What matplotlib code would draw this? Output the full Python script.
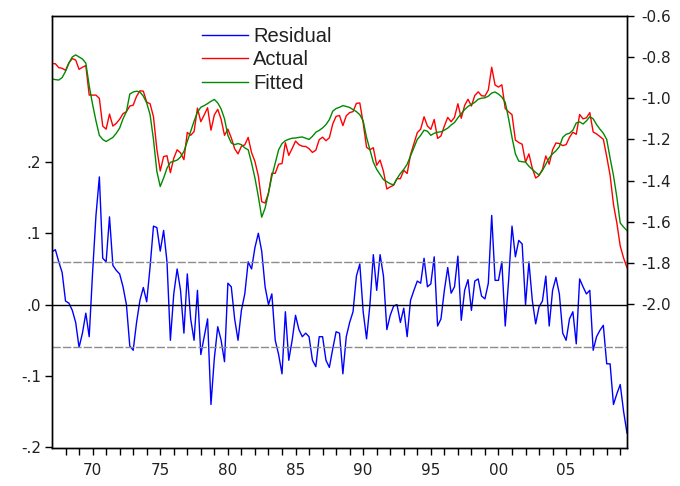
import numpy as np
import matplotlib
matplotlib.use("Agg")
import matplotlib.pyplot as plt
from matplotlib.ticker import FixedLocator, FixedFormatter

# quarterly sample, 1967Q1 .. 2009Q3
START_YEAR = 1967
residual = [
    0.074, 0.077, 0.060, 0.045, 0.005, 0.002, -0.008, -0.025, -0.060, -0.040,
    -0.012, -0.045, 0.045, 0.125, 0.179, 0.065, 0.060, 0.123, 0.055, 0.048,
    0.043, 0.025, 0.000, -0.058, -0.064, -0.025, 0.006, 0.024, 0.004, 0.053,
    0.110, 0.108, 0.075, 0.104, 0.060, -0.050, 0.015, 0.050, 0.020, -0.040,
    0.043, -0.020, -0.050, 0.020, -0.070, -0.045, -0.020, -0.140, -0.075, -0.031,
    -0.050, -0.080, 0.030, 0.025, -0.020, -0.050, -0.008, 0.015, 0.060, 0.050,
    0.080, 0.100, 0.075, 0.025, 0.000, 0.015, -0.050, -0.070, -0.097, -0.010,
    -0.078, -0.050, -0.015, -0.035, -0.045, -0.040, -0.045, -0.078, -0.087, -0.045,
    -0.045, -0.078, -0.088, -0.062, -0.038, -0.040, -0.097, -0.045, -0.025, -0.010,
    0.040, 0.057, -0.010, -0.048, 0.000, 0.070, 0.020, 0.070, 0.040, -0.035,
    -0.015, -0.002, 0.000, -0.025, -0.005, -0.045, 0.006, 0.020, 0.033, 0.030,
    0.065, 0.025, 0.029, 0.067, -0.030, -0.020, 0.020, 0.052, 0.016, 0.025,
    0.068, -0.022, 0.020, 0.035, -0.008, 0.033, 0.036, 0.012, 0.008, 0.030,
    0.125, 0.034, 0.034, 0.060, -0.030, 0.034, 0.110, 0.067, 0.090, 0.085,
    0.000, 0.060, 0.006, -0.027, -0.003, 0.005, 0.040, -0.030, 0.020, 0.038,
    0.015, -0.040, -0.050, -0.020, -0.010, -0.055, 0.036, 0.025, 0.015, 0.020,
    -0.064, -0.045, -0.036, -0.029, -0.083, -0.083, -0.140, -0.125, -0.112, -0.150,
    -0.180,
]
fitted = [
    -0.906, -0.910, -0.912, -0.900, -0.870, -0.830, -0.800, -0.790, -0.800, -0.810,
    -0.830, -0.940, -1.030, -1.110, -1.180, -1.200, -1.210, -1.200, -1.190, -1.170,
    -1.145, -1.100, -1.065, -0.980, -0.970, -0.966, -0.970, -0.990, -1.023, -1.080,
    -1.200, -1.355, -1.428, -1.387, -1.339, -1.311, -1.306, -1.300, -1.285, -1.258,
    -1.209, -1.160, -1.112, -1.068, -1.044, -1.036, -1.026, -1.015, -1.006, -1.023,
    -1.052, -1.100, -1.180, -1.217, -1.225, -1.220, -1.225, -1.241, -1.250, -1.314,
    -1.387, -1.476, -1.577, -1.533, -1.460, -1.379, -1.314, -1.250, -1.220, -1.206,
    -1.199, -1.194, -1.193, -1.190, -1.188, -1.194, -1.200, -1.185, -1.165, -1.156,
    -1.144, -1.128, -1.104, -1.063, -1.050, -1.044, -1.036, -1.040, -1.045, -1.055,
    -1.065, -1.080, -1.110, -1.190, -1.250, -1.310, -1.345, -1.370, -1.395, -1.405,
    -1.415, -1.420, -1.390, -1.365, -1.345, -1.320, -1.280, -1.240, -1.200, -1.180,
    -1.155, -1.160, -1.180, -1.170, -1.165, -1.163, -1.155, -1.145, -1.130, -1.118,
    -1.095, -1.075, -1.055, -1.040, -1.030, -1.020, -1.005, -1.000, -0.998, -0.990,
    -0.975, -0.970, -0.980, -0.995, -1.020, -1.100, -1.190, -1.270, -1.305, -1.308,
    -1.310, -1.330, -1.345, -1.360, -1.372, -1.350, -1.320, -1.290, -1.270, -1.255,
    -1.235, -1.190, -1.175, -1.170, -1.155, -1.120, -1.115, -1.125, -1.110, -1.090,
    -1.100, -1.128, -1.150, -1.170, -1.200, -1.290, -1.375, -1.480, -1.605, -1.625,
    -1.642,
]
SE = 0.06  # standard error band around the residual

resid = np.array(residual)
fit = np.array(fitted)
actual = fit + resid
t = START_YEAR + np.arange(len(resid)) / 4.0

plt.rcParams['font.family'] = ['DejaVu Sans']
TXT = '#202020'

W, H = 680, 486
fig = plt.figure(figsize=(W / 100, H / 100), dpi=100)
ax = fig.add_axes([52 / W, 1 - 448 / H, 575 / W, (448 - 15.7) / H])
ax2 = ax.twinx()

# residual on the left scale
l_res, = ax.plot(t, resid, color='#0000ff', lw=1.0)
ax.axhline(0.0, color='black', lw=1.0)
ax.axhline(SE, color='#8c8c8c', lw=1.0, ls=(0, (6, 1.5)))
ax.axhline(-SE, color='#8c8c8c', lw=1.0, ls=(0, (6, 1.5)))
ax.set_ylim(-0.201, 0.405)
ax.set_yticks([-0.2, -0.1, 0.0, 0.1, 0.2])
ax.set_yticklabels(['-.2', '-.1', '.0', '.1', '.2'])

# actual / fitted on the right scale
l_act, = ax2.plot(t, actual, color='#ff0000', lw=1.0)
l_fit, = ax2.plot(t, fit, color='#008a00', lw=1.0)
ax2.set_ylim(-2.696, -0.6)
rticks = [-2.0, -1.8, -1.6, -1.4, -1.2, -1.0, -0.8, -0.6]
ax2.set_yticks(rticks)
ax2.set_yticklabels([f'{v:.1f}' for v in rticks])

# years along the bottom, labels every five years
ax.set_xlim(1967.0, 2009.5)
years = list(range(1968, 2010))
ax.xaxis.set_major_locator(FixedLocator(years))
ax.xaxis.set_major_formatter(FixedFormatter(
    [f'{y % 100:02d}' if y % 5 == 0 else '' for y in years]))

ax.tick_params(axis='x', direction='out', length=5, width=1, labelsize=11,
               pad=6, labelcolor=TXT)
ax.tick_params(axis='y', direction='out', length=5, width=1, labelsize=11,
               pad=3, labelcolor=TXT)
ax2.tick_params(axis='y', direction='out', length=5, width=1, labelsize=11,
                pad=5, labelcolor=TXT)

for a in (ax, ax2):
    for s in a.spines.values():
        s.set_color('black')
        s.set_linewidth(1.0)

leg = ax2.legend([l_res, l_act, l_fit], ['Residual', 'Actual', 'Fitted'],
                 loc='upper left', bbox_to_anchor=(202 / W, 1 - 27 / H),
                 bbox_transform=fig.transFigure, frameon=False,
                 borderpad=0, borderaxespad=0, handlelength=2.3,
                 handletextpad=0.25, labelspacing=0.22,
                 prop={'family': 'Liberation Sans', 'size': 14.5})
for txt in leg.get_texts():
    txt.set_color(TXT)

fig.savefig('out.png', dpi=100)
